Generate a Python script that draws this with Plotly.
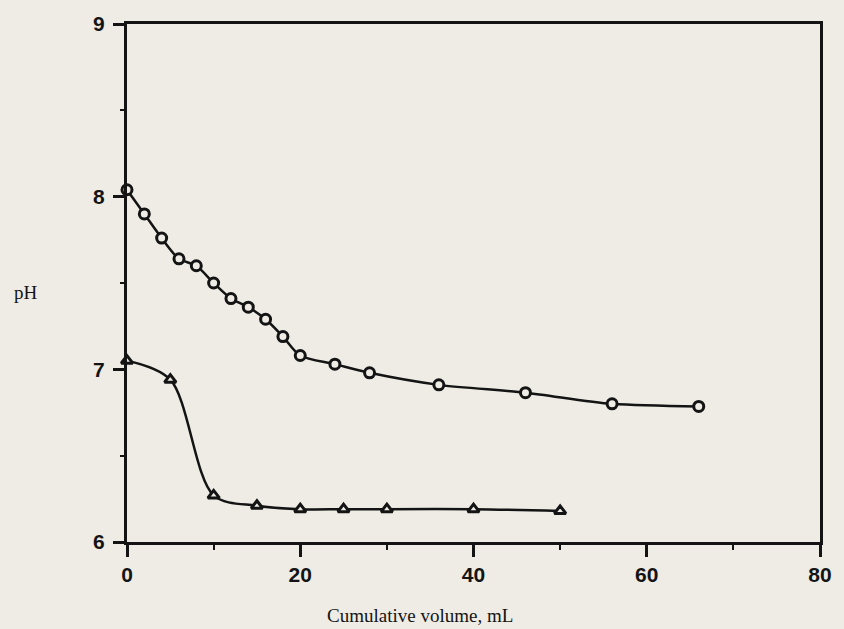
import plotly.graph_objects as go

# Titration data: pH versus cumulative volume added
vol_circle = [0, 2, 4, 6, 8, 10, 12, 14, 16, 18, 20, 24, 28, 36, 46, 56, 66]
ph_circle = [8.04, 7.90, 7.76, 7.64, 7.60, 7.50, 7.41, 7.36, 7.29, 7.19, 7.08,
             7.03, 6.98, 6.91, 6.865, 6.80, 6.785]

vol_triangle = [0, 5, 10, 15, 20, 25, 30, 40, 50]
ph_triangle = [7.05, 6.94, 6.27, 6.21, 6.19, 6.19, 6.19, 6.19, 6.18]

x_ticks = [0, 20, 40, 60, 80]
y_ticks = [6, 7, 8, 9]

BG = "#eeece5"
INK = "#141414"

fig = go.Figure()

fig.add_trace(go.Scatter(
    x=vol_circle, y=ph_circle, mode="lines+markers",
    line=dict(color=INK, width=2.5, shape="spline", smoothing=0.8),
    marker=dict(symbol="circle", size=10, color=BG, line=dict(color=INK, width=3)),
    cliponaxis=False, showlegend=False,
))

fig.add_trace(go.Scatter(
    x=vol_triangle, y=ph_triangle, mode="lines+markers",
    line=dict(color=INK, width=2.5, shape="spline", smoothing=0.9),
    marker=dict(symbol="triangle-up", size=10, color=BG, line=dict(color=INK, width=3)),
    cliponaxis=False, showlegend=False,
))

axis_font = dict(family="Liberation Sans, Arial, sans-serif", size=21, color=INK,
                 weight="bold")

fig.update_xaxes(
    range=[0, 80], tickvals=x_ticks, ticktext=[str(v) for v in x_ticks],
    showline=True, linewidth=3, linecolor=INK, mirror=True,
    ticks="outside", ticklen=12, tickwidth=2.5, tickcolor=INK,
    minor=dict(dtick=10, tick0=0, ticks="outside", ticklen=5, tickwidth=2, tickcolor=INK),
    showgrid=False, zeroline=False, tickfont=axis_font, ticklabelstandoff=0,
)
fig.update_yaxes(
    range=[6, 9], tickvals=y_ticks, ticktext=[str(v) for v in y_ticks],
    showline=True, linewidth=3, linecolor=INK, mirror=True,
    ticks="outside", ticklen=11, tickwidth=2.5, tickcolor=INK,
    minor=dict(dtick=0.5, tick0=6, ticks="outside", ticklen=4, tickwidth=2, tickcolor=INK),
    showgrid=False, zeroline=False, tickfont=axis_font, ticklabelstandoff=4,
)

serif = dict(family="Liberation Serif, Times New Roman, serif", size=19, color=INK)

fig.add_annotation(text="pH", xref="paper", yref="paper", x=-0.146, y=0.481,
                   showarrow=False, font=serif, xanchor="center", yanchor="middle")
fig.add_annotation(text="Cumulative volume, mL", xref="paper", yref="paper",
                   x=0.423, y=-0.141, showarrow=False, font=serif,
                   xanchor="center", yanchor="middle")

fig.update_layout(
    width=844, height=629,
    margin=dict(l=127, r=17, t=18, b=87),
    paper_bgcolor=BG, plot_bgcolor=BG,
)

fig.write_html("out.html")
